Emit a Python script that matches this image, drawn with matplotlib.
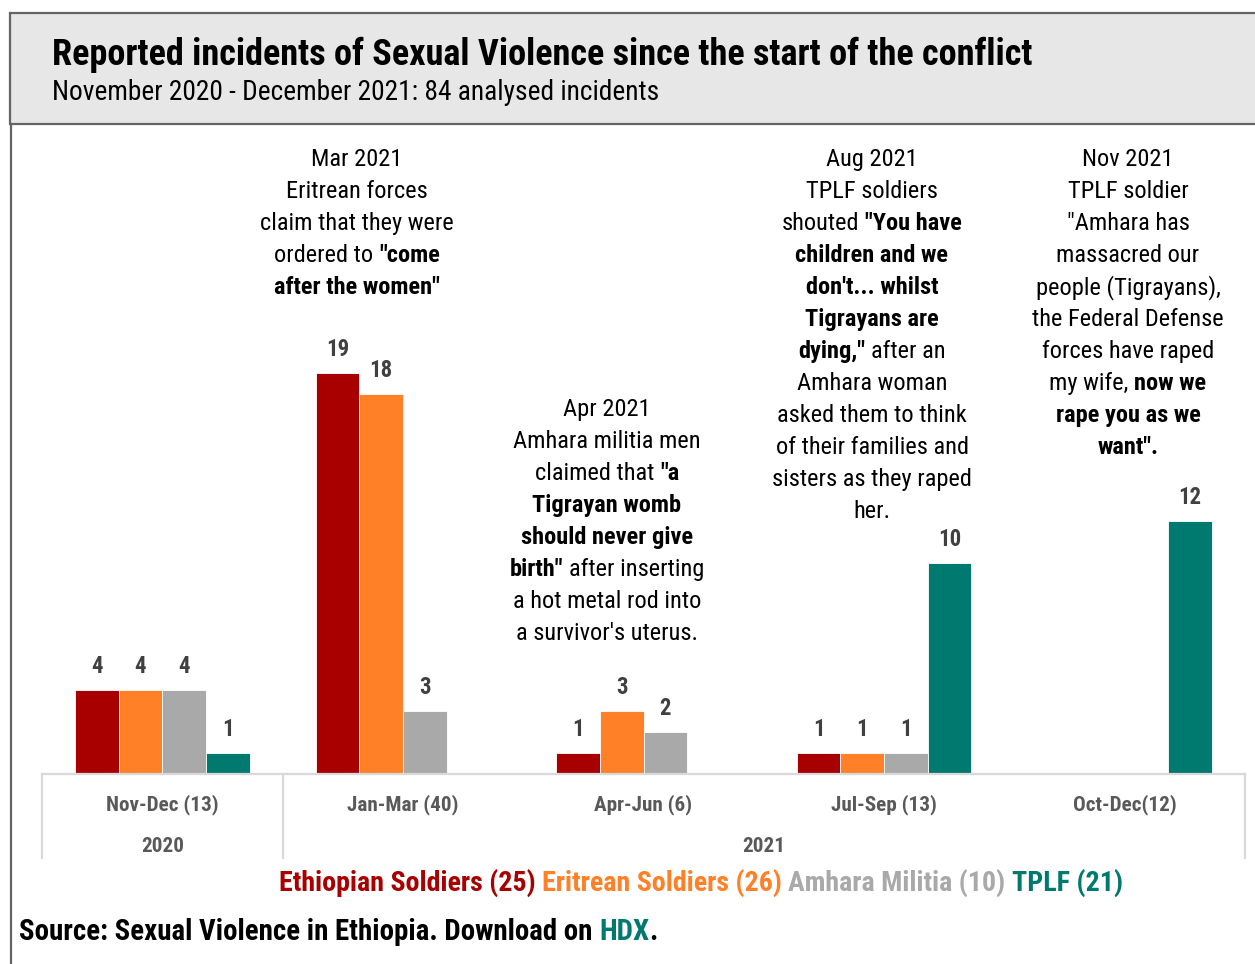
import matplotlib
matplotlib.use("Agg")
import matplotlib.pyplot as plt
from matplotlib.lines import Line2D
from matplotlib.patches import Rectangle
import numpy as np

# ---------------- data ----------------
periods = ["Nov-Dec (13)", "Jan-Mar (40)", "Apr-Jun (6)", "Jul-Sep (13)", "Oct-Dec(12)"]
years = ["2020", "2021"]
series_names = ["Ethiopian Soldiers (25)", "Eritrean Soldiers (26)", "Amhara Militia (10)", "TPLF (21)"]
ethiopian = [4, 19, 1, 1, 0]
eritrean = [4, 18, 3, 1, 0]
amhara = [4, 3, 2, 1, 0]
tplf = [1, 0, 0, 10, 12]
colors = ["#a80000", "#ff8026", "#a9a9a9", "#00796f"]

title = "Reported incidents of Sexual Violence since the start of the conflict"
subtitle = "November 2020 - December 2021: 84 analysed incidents"
source_text = "Source: Sexual Violence in Ethiopia. Download on"
source_link = "HDX"

N, B = "normal", "bold"
note_mar = [
    [("Mar 2021", N)],
    [("Eritrean forces", N)],
    [("claim that they were", N)],
    [("ordered to", N), ('"come', B)],
    [('after the women"', B)],
]
note_apr = [
    [("Apr 2021", N)],
    [("Amhara militia men", N)],
    [("claimed that", N), ('"a', B)],
    [("Tigrayan womb", B)],
    [("should never give", B)],
    [('birth"', B), ("after inserting", N)],
    [("a hot metal rod into", N)],
    [("a survivor's uterus.", N)],
]
note_aug = [
    [("Aug 2021", N)],
    [("TPLF soldiers", N)],
    [("shouted", N), ('"You have', B)],
    [("children and we", B)],
    [("don't... whilst", B)],
    [("Tigrayans are", B)],
    [('dying,"', B), ("after an", N)],
    [("Amhara woman", N)],
    [("asked them to think", N)],
    [("of their families and", N)],
    [("sisters as they raped", N)],
    [("her.", N)],
]
note_nov = [
    [("Nov 2021", N)],
    [("TPLF soldier", N)],
    [('"Amhara has', N)],
    [("massacred our", N)],
    [("people (Tigrayans),", N)],
    [("the Federal Defense", N)],
    [("forces have raped", N)],
    [("my wife,", N), ("now we", B)],
    [("rape you as we", B)],
    [('want".', B)],
]

# ---------------- setup ----------------
W, H = 1255, 964
FAM = ["Roboto Condensed", "DejaVu Sans"]
plt.rcParams["font.family"] = FAM
fig = plt.figure(figsize=(W / 100, H / 100), dpi=100)
fig.patch.set_facecolor("white")
renderer = fig.canvas.get_renderer()


def fx(px):
    return px / W


def fy(py):
    return 1 - py / H


def text_width(s, size, weight):
    t = fig.text(0, 0, s, fontsize=size, fontweight=weight, family=FAM)
    w = t.get_window_extent(renderer).width
    t.remove()
    return w


def fit(s, weight, target, base=20.0):
    return base * target / text_width(s, base, weight)


def rich_line(x, yb, segs, size, ha="center"):
    """segs: list of (text, weight, color). Draw at baseline yb (pixels)."""
    space = text_width("a a", size, N) - text_width("aa", size, N)
    widths = [text_width(t, size, w) for t, w, c in segs]
    gaps = [0 if i == 0 or segs[i][0][0] in ".," else space for i in range(len(segs))]
    total = sum(widths) + sum(gaps)
    cur = x - total / 2 if ha == "center" else x
    for (t, w, c), wd, g in zip(segs, widths, gaps):
        cur += g
        fig.text(fx(cur), fy(yb), t, fontsize=size, fontweight=w, color=c,
                 family=FAM, ha="left", va="baseline")
        cur += wd


# ---------------- header box ----------------
fig.add_artist(Rectangle((fx(10), fy(124)), (1270 - 10) / W, (124 - 13) / H,
                         transform=fig.transFigure, facecolor="#e7e7e7",
                         edgecolor="#646464", linewidth=1.6, zorder=0))
fig.add_artist(Line2D([fx(11), fx(11)], [fy(124), fy(970)], transform=fig.transFigure,
                      color="#646464", linewidth=1.6))

fig.text(fx(52), fy(65), title, fontsize=fit(title, B, 980), fontweight="bold",
         family=FAM, color="black", ha="left", va="baseline")
fig.text(fx(52), fy(100.5), subtitle, fontsize=fit(subtitle, N, 606), family=FAM,
         color="black", ha="left", va="baseline")

# ---------------- bars ----------------
ax_left, ax_right, base_y, top_y = 42, 1245, 774, 130
ax = fig.add_axes([fx(ax_left), fy(base_y), (ax_right - ax_left) / W, (base_y - top_y) / H])
px_per_unit = (774 - 373) / 19.0
ax.set_ylim(0, (base_y - top_y) / px_per_unit)
ax.set_xlim(-0.5, 4.5)
ax.axis("off")

x = np.arange(len(periods))
bw = 43.6 / 240.5
val_size = fit("19", B, 23)
for i, (vals, col) in enumerate(zip([ethiopian, eritrean, amhara, tplf], colors)):
    xs = x + (i - 1.5) * bw
    ax.bar(xs, vals, width=bw, color=col, edgecolor="white", linewidth=0.6, zorder=3)
    for xi, v in zip(xs, vals):
        if v > 0:
            ax.annotate(str(v), (xi, v), xytext=(0, 17 * 0.72), textcoords="offset points",
                        ha="center", va="baseline", fontsize=val_size, fontweight="bold",
                        color="#404040", family=FAM)

# axis frame lines
grid_c = "#d9d9d9"
fig.add_artist(Line2D([fx(ax_left), fx(ax_right)], [fy(base_y), fy(base_y)],
                      transform=fig.transFigure, color=grid_c, linewidth=1.6, zorder=1))
for sx in [ax_left, 283, ax_right]:
    fig.add_artist(Line2D([fx(sx), fx(sx)], [fy(base_y), fy(858)],
                          transform=fig.transFigure, color=grid_c, linewidth=1.6, zorder=1))

cat_size = fit(periods[0], B, 112)
for xi, lab in zip(x, periods):
    xp = ax.transData.transform((xi, 0))[0]
    fig.text(fx(xp), fy(810.5), lab, fontsize=cat_size, fontweight="bold", color="#595959",
             family=FAM, ha="center", va="baseline")
fig.text(fx(162.5), fy(852), years[0], fontsize=cat_size, fontweight="bold", color="#595959",
         family=FAM, ha="center", va="baseline")
fig.text(fx(764), fy(852), years[1], fontsize=cat_size, fontweight="bold", color="#595959",
         family=FAM, ha="center", va="baseline")

# ---------------- legend & source ----------------
leg_size = fit(" ".join(series_names), B, 845)
rich_line(701, 890.5, [(n, B, c) for n, c in zip(series_names, colors)], leg_size)

src_size = fit(source_text + " " + source_link + ".", B, 638)
rich_line(19, 940, [(source_text, B, "black"), (source_link, B, colors[3]), (".", B, "black")],
          src_size, ha="left")

# ---------------- annotations ----------------
note_size = fit("claim that they were", N, 193)
for xc, y0, note in [(357, 166, note_mar), (607, 416, note_apr),
                     (872, 166, note_aug), (1128, 166, note_nov)]:
    for k, line in enumerate(note):
        rich_line(xc, y0 + 32 * k, [(t, w, "black") for t, w in line], note_size)

fig.savefig("out.png", dpi=100, facecolor="white")
